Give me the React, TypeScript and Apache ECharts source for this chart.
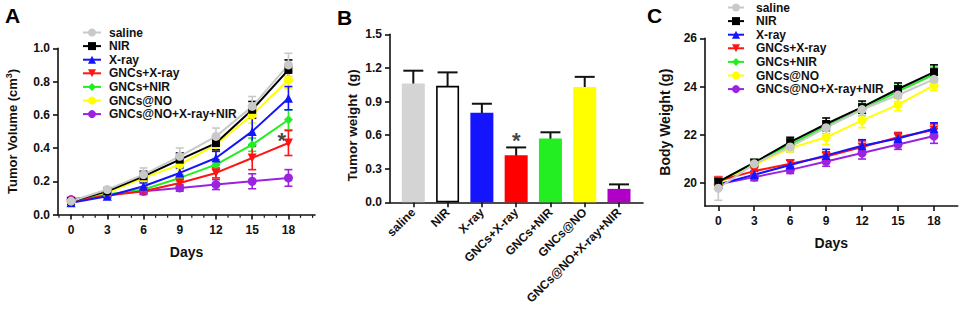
import React, { useEffect, useRef } from 'react';
import * as echarts from 'echarts';

// ---------- data ----------
const groups = ['saline', 'NIR', 'X-ray', 'GNCs+X-ray', 'GNCs+NIR', 'GNCs@NO', 'GNCs@NO+X-ray+NIR'];
const days = [0, 3, 6, 9, 12, 15, 18];
const xTicks = [0, 3, 6, 9, 12, 15, 18];
const xMinorTicks = [-1, 1, 2, 4, 5, 7, 8, 10, 11, 13, 14, 16, 17, 19, 20];
const volTicks = [0, 0.2, 0.4, 0.6, 0.8, 1.0];
const weightTicks = [0, 0.3, 0.6, 0.9, 1.2, 1.5];
const barPositions = [0, 1, 2, 3, 4, 5, 6];
const bodyTicks = [20, 22, 24, 26];

// Panel A: tumor volume (cm3)
const volSaline = [0.08, 0.15, 0.24, 0.35, 0.47, 0.65, 0.9];
const volNIR = [0.08, 0.14, 0.23, 0.33, 0.43, 0.63, 0.87];
const volXray = [0.07, 0.11, 0.17, 0.25, 0.34, 0.5, 0.7];
const volGNCsXray = [0.08, 0.115, 0.14, 0.19, 0.25, 0.34, 0.43];
const volGNCsNIR = [0.08, 0.12, 0.15, 0.22, 0.3, 0.42, 0.57];
const volGNCsNO = [0.08, 0.13, 0.22, 0.3, 0.42, 0.6, 0.81];
const volAll = [0.09, 0.12, 0.14, 0.16, 0.18, 0.2, 0.22];

const volErrSaline = [0.01, 0.015, 0.04, 0.05, 0.05, 0.06, 0.07];
const volErrNIR = [0.01, 0.015, 0.03, 0.04, 0.04, 0.05, 0.06];
const volErrXray = [0.01, 0.01, 0.02, 0.03, 0.04, 0.08, 0.07];
const volErrGNCsXray = [0.01, 0.01, 0.015, 0.02, 0.03, 0.07, 0.075];
const volErrGNCsNIR = [0.01, 0.01, 0.015, 0.02, 0.03, 0.04, 0.06];
const volErrGNCsNO = [0.01, 0.01, 0.02, 0.03, 0.04, 0.05, 0.05];
const volErrAll = [0.01, 0.01, 0.02, 0.02, 0.03, 0.045, 0.05];

// Panel B: tumor weight (g)
const weightMean = [1.06, 1.04, 0.8, 0.42, 0.57, 1.03, 0.12];
const weightErr = [0.115, 0.12, 0.08, 0.07, 0.055, 0.09, 0.04];

// Panel C: body weight (g)
const bwSaline = [19.79, 20.8, 21.5, 22.3, 23.05, 23.65, 24.3];
const bwNIR = [20.05, 20.85, 21.7, 22.45, 23.15, 23.9, 24.6];
const bwXray = [19.95, 20.35, 20.75, 21.15, 21.55, 21.85, 22.25];
const bwGNCsXray = [20.1, 20.5, 20.8, 21.1, 21.5, 21.9, 22.2];
const bwGNCsNIR = [20.05, 20.85, 21.6, 22.35, 23.05, 23.8, 24.5];
const bwGNCsNO = [20.0, 20.75, 21.45, 21.9, 22.6, 23.25, 24.05];
const bwAll = [19.95, 20.25, 20.55, 20.9, 21.25, 21.6, 21.95];

const bwErrSaline = [0.5, 0.2, 0.2, 0.25, 0.25, 0.3, 0.3];
const bwErrNIR = [0.15, 0.15, 0.2, 0.25, 0.25, 0.25, 0.3];
const bwErrXray = [0.15, 0.15, 0.2, 0.25, 0.25, 0.2, 0.25];
const bwErrGNCsXray = [0.15, 0.15, 0.15, 0.2, 0.25, 0.2, 0.25];
const bwErrGNCsNIR = [0.15, 0.15, 0.2, 0.2, 0.25, 0.25, 0.3];
const bwErrGNCsNO = [0.15, 0.15, 0.15, 0.3, 0.3, 0.25, 0.2];
const bwErrAll = [0.15, 0.15, 0.15, 0.2, 0.25, 0.2, 0.3];

// significance marks
const starA = [17.45, 0.465];
const starB = [3, 0.575];

const volSeries = [volSaline, volNIR, volXray, volGNCsXray, volGNCsNIR, volGNCsNO, volAll];
const volErrs = [volErrSaline, volErrNIR, volErrXray, volErrGNCsXray, volErrGNCsNIR, volErrGNCsNO, volErrAll];
const bwSeries = [bwSaline, bwNIR, bwXray, bwGNCsXray, bwGNCsNIR, bwGNCsNO, bwAll];
const bwErrs = [bwErrSaline, bwErrNIR, bwErrXray, bwErrGNCsXray, bwErrGNCsNIR, bwErrGNCsNO, bwErrAll];

// ---------- styles ----------
const lineColors = ['#c9c9c9', '#000000', '#1414ff', '#ff1414', '#22ee22', '#ffff00', '#9b22e0'];
const barColors = ['#d4d4d4', '#ffffff', '#1414ff', '#ff0000', '#22ee22', '#ffff00', '#b000c8'];
const symbols = ['circle', 'rect', 'triangle', 'triangle', 'diamond', 'circle', 'circle'];
const symbolRotates = [0, 0, 0, 180, 0, 0, 0];
const symbolSizes = [9, 8, 9, 9, 9, 9, 9];
const FONT = '"Liberation Sans", Arial, sans-serif';
const AXIS = '#111111';

const errRender = (color: string, cap: number, lw: number) => (params: any, api: any) => {
  const x = api.value(0);
  const y = api.value(1);
  const e = api.value(2);
  const top = api.coord([x, y + e]);
  const bot = api.coord([x, y - e]);
  const style = { stroke: color, lineWidth: lw, fill: null };
  return {
    type: 'group',
    children: [
      { type: 'line', shape: { x1: top[0], y1: top[1], x2: bot[0], y2: bot[1] }, style },
      { type: 'line', shape: { x1: top[0] - cap, y1: top[1], x2: top[0] + cap, y2: top[1] }, style },
      { type: 'line', shape: { x1: bot[0] - cap, y1: bot[1], x2: bot[0] + cap, y2: bot[1] }, style },
    ],
  };
};

// minor tick marks below the x axis of panel A
const minorTickRender = (params: any, api: any) => {
  const p = api.coord([api.value(0), api.value(1)]);
  return {
    type: 'line',
    shape: { x1: p[0], y1: p[1] + 0.8, x2: p[0], y2: p[1] + 3.3 },
    style: { stroke: AXIS, lineWidth: 1.2, fill: null },
  };
};

const axisCommon = {
  axisLine: { show: true, onZero: false, lineStyle: { color: AXIS, width: 1.6 } },
  axisTick: { show: true, length: 5, lineStyle: { color: AXIS, width: 1.6 } },
  splitLine: { show: false },
  axisLabel: { fontFamily: FONT, fontWeight: 'bold', fontSize: 12, color: AXIS, margin: 8 },
  nameTextStyle: { fontFamily: FONT, fontWeight: 'bold', color: AXIS },
};

function buildLineSeries(values: number[][], errs: number[][], xi: number, yi: number, cap: number) {
  const out: any[] = [];
  // draw last group first so saline ends on top
  for (let g = groups.length - 1; g >= 0; g--) {
    out.push({
      type: 'custom',
      name: groups[g] + '-err-' + xi,
      xAxisIndex: xi,
      yAxisIndex: yi,
      silent: true,
      renderItem: errRender(lineColors[g], cap, 1.6),
      encode: { x: 0, y: 1 },
      data: days.map((d, i) => [d, values[g][i], errs[g][i]]),
    });
    out.push({
      type: 'line',
      name: groups[g],
      xAxisIndex: xi,
      yAxisIndex: yi,
      silent: true,
      symbol: symbols[g],
      symbolRotate: symbolRotates[g],
      symbolSize: symbolSizes[g],
      showAllSymbol: true,
      color: lineColors[g],
      itemStyle: { color: lineColors[g] },
      lineStyle: { color: lineColors[g], width: 2 },
      data: days.map((d, i) => [d, values[g][i]]),
    });
  }
  return out;
}

export default function App() {
  const ref = useRef<HTMLDivElement>(null);
  useEffect(() => {
    if (!ref.current) return;
    document.body.style.margin = '0';
    const chart = echarts.init(ref.current, null, { renderer: 'svg', width: 962, height: 309 });

    const legendCommon = {
      orient: 'vertical',
      selectedMode: false,
      itemWidth: 18,
      itemHeight: 10,
      itemGap: 1.6,
      padding: 0,
      data: groups.map((n, i) => ({ name: n, itemStyle: { color: lineColors[i] } })),
    };

    const starLabel = {
      show: true,
      position: 'inside',
      formatter: '*',
      fontFamily: FONT,
      fontWeight: 'bold',
      fontSize: 22,
      color: '#111',
      offset: [0, 3],
    };

    const option: any = {
      animation: false,
      backgroundColor: '#ffffff',
      textStyle: { fontFamily: FONT },
      graphic: [
        { type: 'text', left: 5, top: 5, style: { text: 'A', font: 'bold 21px ' + FONT, fill: '#000' } },
        { type: 'text', left: 337, top: 7, style: { text: 'B', font: 'bold 21px ' + FONT, fill: '#000' } },
        { type: 'text', left: 647, top: 5, style: { text: 'C', font: 'bold 21px ' + FONT, fill: '#000' } },
      ],
      legend: [
        {
          ...legendCommon,
          left: 82,
          top: 26.5,
          textStyle: { fontFamily: FONT, fontWeight: 'bold', fontSize: 12, color: AXIS, lineHeight: 12, padding: [0, 0, 0, 3] },
        },
        {
          ...legendCommon,
          left: 727,
          top: 1.5,
          itemWidth: 16,
          textStyle: { fontFamily: FONT, fontWeight: 'bold', fontSize: 12, color: AXIS, lineHeight: 12, padding: [0, 0, 0, 7] },
        },
      ],
      grid: [
        { left: 58, top: 48.3, width: 257, height: 166.2 },
        { left: 390, top: 34.3, width: 253, height: 168 },
        { left: 705, top: 38.3, width: 252.7, height: 167.8 },
      ],
      xAxis: [
        {
          ...axisCommon,
          type: 'value',
          gridIndex: 0,
          position: 'bottom',
          min: -1.08,
          max: 20.2,
          axisTick: { ...axisCommon.axisTick, customValues: xTicks },
          axisLabel: { ...axisCommon.axisLabel, margin: 9, customValues: xTicks },
          name: 'Days',
          nameLocation: 'middle',
          nameGap: 30,
          nameTextStyle: { ...axisCommon.nameTextStyle, fontSize: 14 },
        },
        {
          ...axisCommon,
          type: 'value',
          gridIndex: 1,
          position: 'bottom',
          min: -0.68,
          max: 6.7,
          axisTick: { ...axisCommon.axisTick, customValues: barPositions },
          axisLabel: {
            ...axisCommon.axisLabel,
            rotate: 45,
            margin: 8,
            customValues: barPositions,
            formatter: (v: number) => groups[Math.round(v)] ?? '',
          },
        },
        {
          ...axisCommon,
          type: 'value',
          gridIndex: 2,
          position: 'bottom',
          min: -1.11,
          max: 19.98,
          axisTick: { ...axisCommon.axisTick, customValues: xTicks },
          axisLabel: { ...axisCommon.axisLabel, margin: 9, customValues: xTicks },
          name: 'Days',
          nameLocation: 'middle',
          nameGap: 30,
          nameTextStyle: { ...axisCommon.nameTextStyle, fontSize: 14 },
        },
      ],
      yAxis: [
        {
          ...axisCommon,
          type: 'value',
          gridIndex: 0,
          min: 0,
          max: 1,
          interval: 0.2,
          axisTick: { ...axisCommon.axisTick, customValues: volTicks },
          axisLabel: { ...axisCommon.axisLabel, customValues: volTicks, formatter: (v: number) => v.toFixed(1) },
          name: '{a|Tumor Volume (cm}{s|3}{a|)}',
          nameLocation: 'middle',
          nameGap: 38,
          nameTextStyle: {
            ...axisCommon.nameTextStyle,
            fontSize: 13,
            rich: {
              a: { fontFamily: FONT, fontWeight: 'bold', fontSize: 13, color: AXIS, lineHeight: 16 },
              s: { fontFamily: FONT, fontWeight: 'bold', fontSize: 9, color: AXIS, lineHeight: 16, verticalAlign: 'top' },
            },
          },
        },
        {
          ...axisCommon,
          type: 'value',
          gridIndex: 1,
          min: 0,
          max: 1.5,
          interval: 0.3,
          axisTick: { ...axisCommon.axisTick, customValues: weightTicks },
          axisLabel: { ...axisCommon.axisLabel, customValues: weightTicks, formatter: (v: number) => v.toFixed(1) },
          name: 'Tumor weight  (g)',
          nameLocation: 'middle',
          nameGap: 31,
          nameTextStyle: { ...axisCommon.nameTextStyle, fontSize: 13.5, padding: [0, 14, 0, 0] },
        },
        {
          ...axisCommon,
          type: 'value',
          gridIndex: 2,
          min: 19.05,
          max: 26,
          axisTick: { ...axisCommon.axisTick, customValues: bodyTicks },
          axisLabel: { ...axisCommon.axisLabel, customValues: bodyTicks, formatter: (v: number) => String(Math.round(v)) },
          name: 'Body Weight (g)',
          nameLocation: 'middle',
          nameGap: 33,
          nameTextStyle: { ...axisCommon.nameTextStyle, fontSize: 14 },
        },
      ],
      series: [
        {
          type: 'custom',
          name: 'minor-ticks',
          xAxisIndex: 0,
          yAxisIndex: 0,
          silent: true,
          clip: false,
          renderItem: minorTickRender,
          encode: { x: 0, y: 1 },
          data: xMinorTicks.map((d) => [d, 0]),
        },
        ...buildLineSeries(volSeries, volErrs, 0, 0, 4),
        {
          type: 'bar',
          name: 'tumor-weight',
          xAxisIndex: 1,
          yAxisIndex: 1,
          silent: true,
          barWidth: 23,
          data: weightMean.map((v, i) => ({
            value: [barPositions[i], v],
            itemStyle: {
              color: barColors[i],
              borderColor: i === 1 ? '#000000' : barColors[i],
              borderWidth: i === 1 ? 1.6 : 0,
            },
          })),
        },
        {
          type: 'custom',
          name: 'tumor-weight-err',
          xAxisIndex: 1,
          yAxisIndex: 1,
          silent: true,
          renderItem: errRender('#111111', 10, 2),
          encode: { x: 0, y: 1 },
          data: weightMean.map((v, i) => [barPositions[i], v, weightErr[i]]),
        },
        ...buildLineSeries(bwSeries, bwErrs, 2, 2, 4),
        {
          type: 'scatter',
          name: 'sigA',
          xAxisIndex: 0,
          yAxisIndex: 0,
          silent: true,
          symbolSize: 1,
          itemStyle: { color: 'transparent' },
          label: starLabel,
          data: [starA],
        },
        {
          type: 'scatter',
          name: 'sigB',
          xAxisIndex: 1,
          yAxisIndex: 1,
          silent: true,
          symbolSize: 1,
          itemStyle: { color: 'transparent' },
          label: starLabel,
          data: [starB],
        },
      ],
    };

    chart.setOption(option);
    return () => chart.dispose();
  }, []);

  return <div ref={ref} style={{ position: 'absolute', left: 0, top: 0, width: 962, height: 309 }} />;
}
